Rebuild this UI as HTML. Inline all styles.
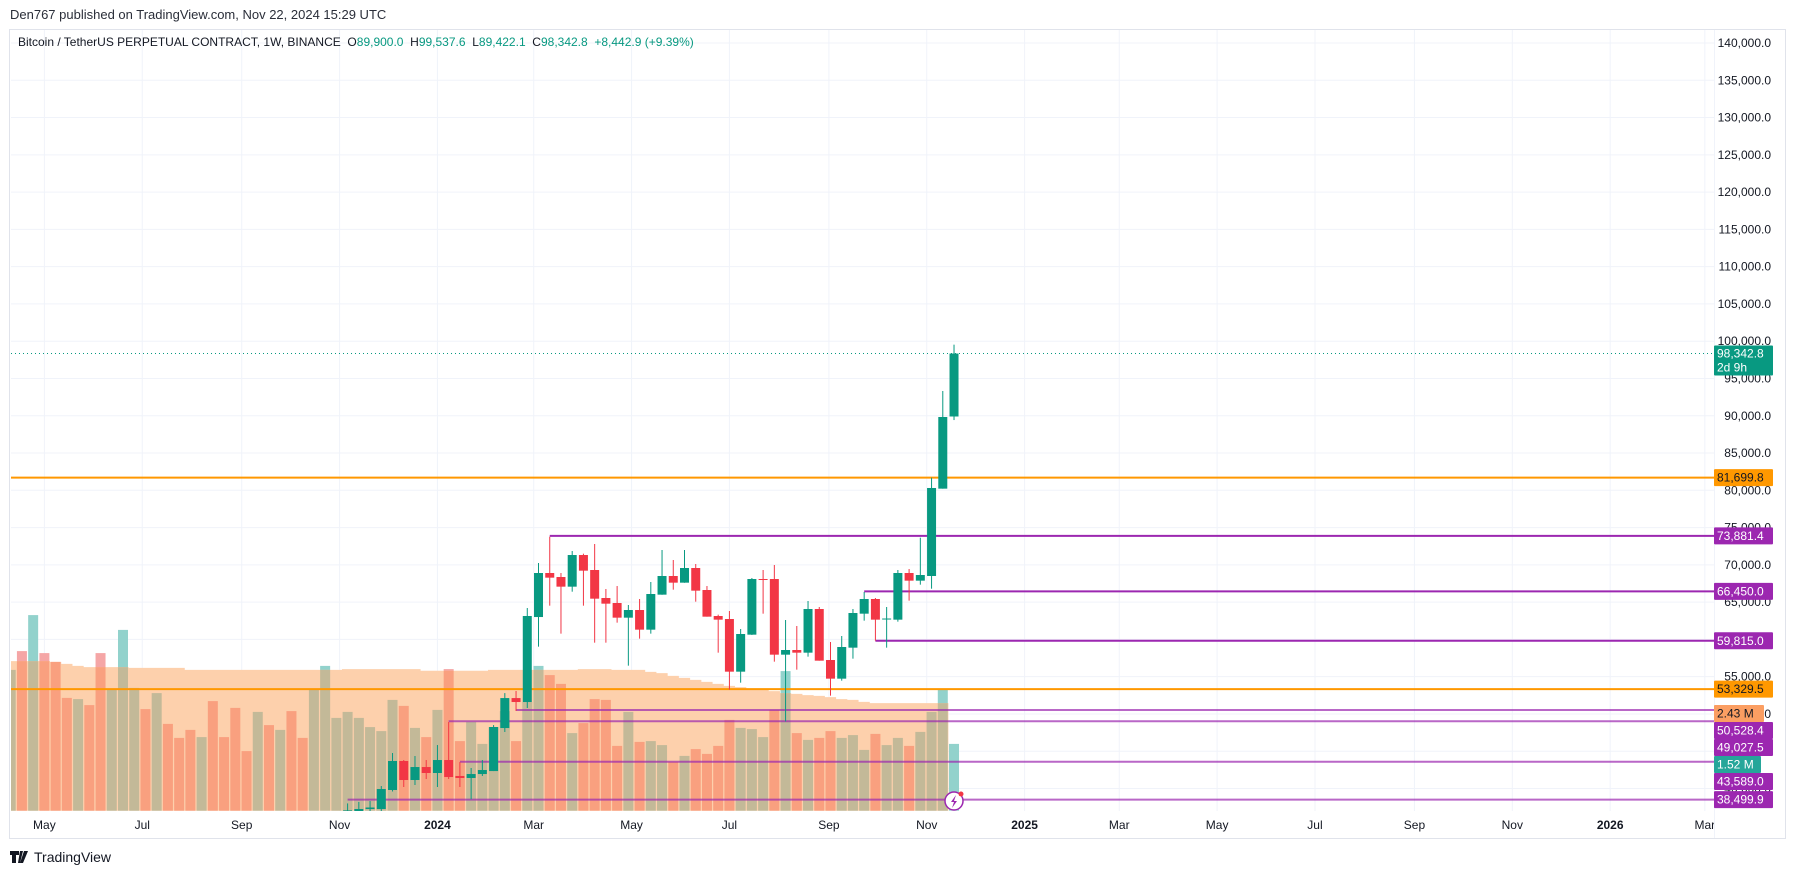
<!DOCTYPE html>
<html><head><meta charset="utf-8">
<style>
html,body{margin:0;padding:0;background:#fff;width:1794px;height:874px;overflow:hidden}
svg{display:block;font-family:"Liberation Sans",sans-serif}
</style></head>
<body>
<svg id="chart" width="1794" height="874" viewBox="0 0 1794 874" xmlns="http://www.w3.org/2000/svg">
<defs>
<clipPath id="pane"><rect x="11" y="30" width="1703" height="781"/></clipPath>
<clipPath id="axisclip"><rect x="11" y="812" width="1703" height="26"/></clipPath>
</defs>
<text x="10" y="19" font-size="13" fill="#2a2e39">Den767 published on TradingView.com, Nov 22, 2024 15:29 UTC</text>
<rect x="9.5" y="29.5" width="1776" height="809" fill="none" stroke="#e0e3eb" stroke-width="1"/>
<line x1="1714.5" y1="30" x2="1714.5" y2="838" stroke="#f0f3fa"/>
<g id="grid"></g>
<g id="volume" clip-path="url(#pane)"></g>
<g id="levels" clip-path="url(#pane)"></g>
<g id="candles" clip-path="url(#pane)"></g>
<g id="paxis"></g>
<g id="taxis"></g>
<g id="labels"></g>
<text x="18" y="46" font-size="12" fill="#131722" style="white-space:pre" xml:space="preserve">Bitcoin / TetherUS PERPETUAL CONTRACT, 1W, BINANCE  <tspan>O</tspan><tspan fill="#089981">89,900.0</tspan>  <tspan>H</tspan><tspan fill="#089981">99,537.6</tspan>  <tspan>L</tspan><tspan fill="#089981">89,422.1</tspan>  <tspan>C</tspan><tspan fill="#089981">98,342.8</tspan>  <tspan fill="#089981">+8,442.9 (+9.39%)</tspan></text>
<g>
<path d="M10 851h9v4h-3v8h-4v-8h-2z M20 851h3l-3 12h-2z M24 851h4l-5 12h-3z" fill="#131722"/>
<text x="34" y="862" font-size="14" fill="#131722">TradingView</text>
</g>
<g>
<circle cx="954" cy="801" r="9" fill="#fff" stroke="#9c27b0" stroke-width="1.5"/>
<path d="M956 795l-5 7h3l-2 6 5-7h-3z" fill="#9c27b0"/>
<circle cx="961" cy="794" r="2.5" fill="#f23645"/>
</g>
</svg>
<script>
// ---------- data ----------
const volume = [3.52,3.99,4.89,3.94,3.72,2.82,2.79,2.64,3.94,3.04,4.52,3.07,2.54,2.94,2.17,1.82,2.02,1.84,2.74,1.84,2.57,1.49,2.47,2.14,2.02,2.49,1.82,3.04,3.62,2.32,2.47,2.32,2.09,1.99,2.77,2.62,2.07,1.84,2.52,3.54,1.74,2.22,1.67,2.09,2.49,1.74,2.72,3.62,3.39,3.17,1.94,2.19,2.79,2.77,1.62,2.47,1.72,1.74,1.64,1.22,1.37,1.54,1.42,1.62,2.27,2.07,2.04,1.84,2.52,3.49,1.94,1.77,1.82,1.99,1.82,1.89,1.52,1.92,1.64,1.82,1.62,1.97,2.47,3.04,1.67];
const volumeUp = [1,0,1,0,0,0,1,0,0,1,1,1,0,1,0,0,0,1,0,0,0,0,1,0,1,0,0,1,1,1,1,1,1,1,1,0,1,0,1,0,0,1,1,1,1,0,1,1,0,0,1,0,0,0,0,1,0,1,1,0,1,0,0,0,0,1,1,1,0,1,0,1,0,0,1,1,1,0,1,1,0,1,1,1,1];
const volumeMA = [3.74,3.74,3.74,3.74,3.72,3.67,3.62,3.59,3.59,3.59,3.59,3.57,3.57,3.57,3.57,3.57,3.52,3.52,3.52,3.52,3.52,3.52,3.52,3.52,3.52,3.52,3.52,3.52,3.52,3.52,3.54,3.54,3.54,3.54,3.54,3.54,3.54,3.50,3.50,3.50,3.50,3.50,3.50,3.52,3.52,3.52,3.52,3.52,3.52,3.52,3.52,3.54,3.54,3.54,3.52,3.52,3.52,3.47,3.44,3.37,3.32,3.27,3.22,3.17,3.12,3.09,3.04,3.02,2.99,2.94,2.92,2.89,2.87,2.84,2.79,2.77,2.72,2.69,2.69,2.69,2.69,2.69,2.69,2.69];
const candleStart = 30;
const open  = [35000,36980,37250,37250,39800,43690,41140,42880,42080,43820,41680,41410,41940,42340,48110,52130,51600,63000,68906,68370,67073,71320,69309,65553,64882,62915,63943,61305,66001,68504,67610,69577,66626,63138,62736,55671,60635,68101,68101,57952,58578,58220,64078,57237,54733,58891,63451,65419,62736,62647,68906,67878,68505,80220,89900];
const high  = [38000,38200,38320,40330,44760,43820,44360,43820,45830,48920,43550,42750,43820,48510,52800,53080,64210,70247,73780,68906,71857,71500,72796,66760,67160,64614,65419,67699,71991,70650,71991,70113,67160,63318,63809,61395,68235,69309,69980,62602,61797,65151,64346,59651,60456,64078,66358,65553,64346,69309,69443,73645,81695,93320,99537.6];
const low   = [34500,34800,35600,36800,39600,40200,40470,41270,40200,41270,40200,38560,41680,42340,47580,50400,50800,59025,64524,60770,66400,64524,59561,59561,62244,56476,60100,60770,65990,66670,67600,65061,63049,58220,53258,54196,60600,63451,57013,49000,55940,57684,57147,52453,54465,57416,62513,59830,58891,62378,65195,67341,66800,80220,89422.1];
const close = [37060,37250,37450,39930,43690,41140,42880,42080,43820,41540,41410,41940,42480,48250,52130,51600,63140,68906,68280,67073,71320,69219,65463,64793,62915,63943,61305,66090,68504,67610,69577,66537,63049,62647,55671,60724,68101,68010,57952,58578,58220,64078,57147,54733,58981,63541,65419,62647,62800,68906,67878,68638,80310,89833,98342.8];
const priceTicks = [140000,135000,130000,125000,120000,115000,110000,105000,100000,95000,90000,85000,80000,75000,70000,65000,60000,55000,50000,45000,40000];
const levelPrices = [81699.8,73881.4,66450.0,59815.0,53329.5,50528.4,49027.5,43589.0,38499.9];
const levelStartBar = [-1,48,76,77,-1,45,39,40,30];
const levelKind = ['orange','purple','purple','purple','orange','purple','purple','purple','purple'];
const monthDates = ['2023-05-01','2023-07-01','2023-09-01','2023-11-01','2024-01-01','2024-03-01','2024-05-01','2024-07-01','2024-09-01','2024-11-01','2025-01-01','2025-03-01','2025-05-01','2025-07-01','2025-09-01','2025-11-01','2026-01-01','2026-03-01'];
const monthLabels = ['May','Jul','Sep','Nov','2024','Mar','May','Jul','Sep','Nov','2025','Mar','May','Jul','Sep','Nov','2026','Mar'];
const lastPrice = 98342.8;
const volMALabel = 2.43, volLastLabel = 1.52;

// ---------- scales ----------
const NS='http://www.w3.org/2000/svg';
const PANE_L=11, PANE_R=1714, VOL_BASE=810.7;
const py = p => 43 + (140000 - p) * 0.007455;
const bx = i => 10.7 + i * 11.23;
const vy = v => VOL_BASE - v * 40;
const lastBarDate = Date.UTC(2024,10,18);
const dx = d => { const t = Date.parse(d+'T00:00:00Z'); return bx(volume.length-1) + (t - lastBarDate)/(7*864e5)*11.23; };
function mk(tag, attrs, parent){ const e=document.createElementNS(NS,tag); for(const k in attrs) e.setAttribute(k,attrs[k]); parent.appendChild(e); return e; }
const fmt = p => p.toLocaleString('en-US',{minimumFractionDigits:1,maximumFractionDigits:1});

// grid
const grid=document.getElementById('grid');
priceTicks.forEach(p=>{ const l=mk('line',{x1:PANE_L,x2:PANE_R,y1:py(p),y2:py(p),stroke:'#f0f3fa'},grid);
   });
monthDates.forEach(d=>{ const x=dx(d); if(x>PANE_R) return; const l=mk('line',{x1:x,x2:x,y1:30,y2:811,stroke:'#f0f3fa'},grid);
   });

// volume
const vg=document.getElementById('volume');
let areaPts=[];
volumeMA.forEach((m,i)=>{ areaPts.push((bx(i)-5.6)+','+vy(m)); areaPts.push((bx(i)+5.6)+','+vy(m)); });
const areaD='M'+(bx(0)-5.6)+','+VOL_BASE+' L'+areaPts.join(' L')+' L'+(bx(volumeMA.length-1)+5.6)+','+VOL_BASE+' Z';
const cp=mk('clipPath',{id:'maclip'},document.querySelector('defs')); mk('path',{d:areaD},cp);
volume.forEach((v,i)=>{ const r=mk('rect',{x:bx(i)-5,y:vy(v),width:10,height:VOL_BASE-vy(v),fill:volumeUp[i]?'#92d2cc':'#f5a6a6'},vg);
   });
const area=mk('path',{d:areaD,fill:'#fdd0ac'},vg);
 
const vin=mk('g',{'clip-path':'url(#maclip)'},vg);
volume.forEach((v,i)=>{ const r=mk('rect',{x:bx(i)-5,y:vy(v),width:10,height:VOL_BASE-vy(v),fill:volumeUp[i]?'#c3b998':'#f9a07f'},vin);
   });

// levels
const lg=document.getElementById('levels');
levelPrices.forEach((p,k)=>{ const x1= levelStartBar[k]<0?PANE_L:bx(levelStartBar[k]);
 const l=mk('line',{x1:x1,x2:PANE_R,y1:py(p),y2:py(p),stroke:levelKind[k]==='orange'?'#ff9800':'#9c27b0','stroke-width':2,opacity:p<51000?0.7:1},lg);
   });
const dl=mk('line',{x1:PANE_L,x2:PANE_R,y1:py(lastPrice),y2:py(lastPrice),stroke:'#089981','stroke-dasharray':'1 3'},lg);
 

// candles
const cg=document.getElementById('candles');
open.forEach((o,j)=>{ const i=j+candleStart, x=bx(i), c=close[j], up=c>=o, col=up?'#089981':'#f23645';
 const g=mk('g',{},cg);
  
 mk('line',{x1:x,x2:x,y1:py(high[j]),y2:py(low[j]),stroke:col,'stroke-width':1},g);
 const t=py(Math.max(o,c)), b=py(Math.min(o,c));
 mk('rect',{x:x-4.5,y:t,width:9,height:Math.max(1,b-t),fill:col},g); });

// price axis
const pa=document.getElementById('paxis');
priceTicks.forEach(p=>{ const t=mk('text',{x:1771,y:py(p)+4,'font-size':12,'text-anchor':'end',fill:'#131722'},pa); t.textContent=fmt(p);
   });

// time axis
const ta=document.getElementById('taxis'); const tac=mk('g',{'clip-path':'url(#axisclip)'},ta);
monthDates.forEach((d,k)=>{ const lb=monthLabels[k], t=mk('text',{x:dx(d),y:829,'font-size':12,'text-anchor':'middle',fill:'#131722','font-weight':/^\d/.test(lb)?'bold':'normal'},tac);
 t.textContent=lb;   });

// axis labels with stacking
const lab=document.getElementById('labels');
const items=[];
levelPrices.forEach((p,k)=>items.push({y:py(p),key:py(p),text:fmt(p),bg:levelKind[k]==='orange'?'#ff9800':'#9c27b0',fg:levelKind[k]==='orange'?'#131722':'#fff',w:59}));
items.push({y:vy(volMALabel),key:vy(volMALabel)-6,text:volMALabel.toFixed(2)+' M',bg:'#fb9e62',fg:'#131722',w:50});
items.push({y:vy(volLastLabel),key:vy(volLastLabel),text:volLastLabel.toFixed(2)+' M',bg:'#26a69a',fg:'#fff',w:47});
items.sort((a,b)=>a.key-b.key);
let prev=-1e9; const H=17;
items.forEach(it=>{ let top=it.y-H/2; if(top<prev) top=prev; prev=top+H;
 const g=mk('g',{},lab);
  
 mk('rect',{x:1714,y:top,width:it.w,height:H,rx:1,fill:it.bg},g);
 const t=mk('text',{x:1717,y:top+12.5,'font-size':12,fill:it.fg},g); t.textContent=it.text; });
// last price label
const lp=mk('g',{},lab);
 
const ly=py(lastPrice);
mk('rect',{x:1714,y:ly-8,width:59,height:30,rx:1,fill:'#089981'},lp);
const t1=mk('text',{x:1717,y:ly+4,'font-size':12,fill:'#fff'},lp); t1.textContent=fmt(lastPrice);
const t2=mk('text',{x:1717,y:ly+18,'font-size':12,fill:'#fff'},lp); t2.textContent='2d 9h';
</script>
</body></html>
